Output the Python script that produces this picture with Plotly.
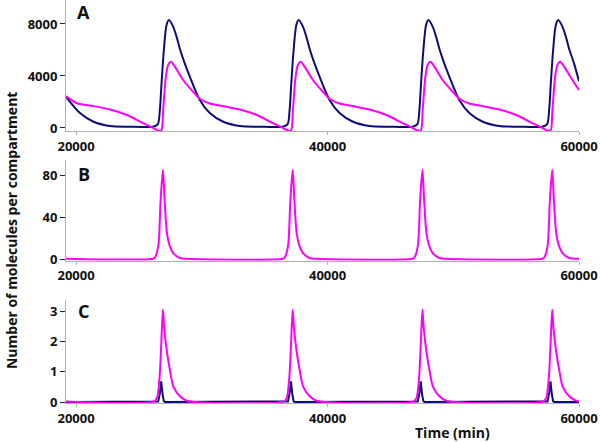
import plotly.graph_objects as go

# ---------------- data ----------------
# Panel A (blue)
a_blue_t = [19200, 20315, 21348, 22697, 24206,
            26110, 26507, 26665, 26800, 26983, 27197, 27380, 27721, 28015, 28253, 28650, 29047, 29841, 30635, 31668, 33017, 34526,
            36430, 36827, 36985, 37120, 37303, 37517, 37700, 38041, 38335, 38573, 38970, 39367, 40161, 40955, 41988, 43337, 44846,
            46750, 47147, 47305, 47440, 47623, 47837, 48020, 48361, 48655, 48893, 49290, 49687, 50481, 51275, 52308, 53657, 55166,
            57070, 57467, 57625, 57760, 57943, 58157, 58340, 58681, 58975, 59213, 59610, 60000]
a_blue_v = [2400, 1150, 500, 150, 100,
            100, 300, 1385, 3460, 6000, 7920, 8300, 7800, 6950, 6100, 4950, 3950, 2150, 1150, 500, 150, 100,
            100, 300, 1385, 3460, 6000, 7920, 8300, 7800, 6950, 6100, 4950, 3950, 2150, 1150, 500, 150, 100,
            100, 300, 1385, 3460, 6000, 7920, 8300, 7800, 6950, 6100, 4950, 3950, 2150, 1150, 500, 150, 100,
            100, 300, 1385, 3460, 6000, 7920, 8300, 7800, 6950, 6100, 4950, 3600]

# Panel A (magenta)
a_mag_t = [19200, 20077, 21348, 22697, 24047, 25318, 26112, 26509, 26777,
           26927, 27142, 27324, 27539, 27856, 28515, 29309, 29841, 30635, 31668, 33017, 34367, 35638, 36432, 36829, 37097,
           37247, 37462, 37644, 37859, 38176, 38835, 39629, 40161, 40955, 41988, 43337, 44687, 45958, 46752, 47149, 47417,
           47567, 47782, 47964, 48179, 48496, 49155, 49949, 50481, 51275, 52308, 53657, 55007, 56278, 57072, 57469, 57737,
           57887, 58102, 58284, 58499, 58816, 59475, 60000]
a_mag_v = [2450, 1900, 1690, 1420, 1000, 380, 10, -200, -200,
           1385, 3950, 4850, 5100, 4720, 3690, 2790, 2250, 1880, 1690, 1420, 1000, 380, 10, -200, -200,
           1385, 3950, 4850, 5100, 4720, 3690, 2790, 2250, 1880, 1690, 1420, 1000, 380, 10, -200, -200,
           1385, 3950, 4850, 5100, 4720, 3690, 2790, 2250, 1880, 1690, 1420, 1000, 380, 10, -200, -200,
           1385, 3950, 4850, 5100, 4720, 3690, 2920]

# Panel B (magenta)
b_mag_t = [19200,
           26114, 26273, 26535, 26725, 26908, 27043, 27226, 27464, 27726, 28258, 28814,
           36434, 36593, 36855, 37045, 37228, 37363, 37546, 37784, 38046, 38578, 39134,
           46754, 46913, 47175, 47365, 47548, 47683, 47866, 48104, 48366, 48898, 49454,
           57074, 57233, 57495, 57685, 57868, 58003, 58186, 58424, 58686, 59218, 59774,
           60000]
b_mag_v = [0.3,
           0.3, 1.5, 12, 56, 85, 56, 25, 12, 5.7, 1, 0.3,
           0.3, 1.5, 12, 56, 85, 56, 25, 12, 5.7, 1, 0.3,
           0.3, 1.5, 12, 56, 85, 56, 25, 12, 5.7, 1, 0.3,
           0.3, 1.5, 12, 56, 85, 56, 25, 12, 5.7, 1, 0.3,
           0.3]

# Panel C (magenta)
c_mag_t = [19200,
           26193, 26432, 26638, 26773, 26908, 27011, 27226, 27488, 27750, 28282, 28814,
           36513, 36752, 36958, 37093, 37228, 37331, 37546, 37808, 38070, 38602, 39134,
           46833, 47072, 47278, 47413, 47548, 47651, 47866, 48128, 48390, 48922, 49454,
           57153, 57392, 57598, 57733, 57868, 57971, 58186, 58448, 58710, 59242, 59774,
           60000]
c_mag_v = [0.02,
           0.02, 0.13, 0.8, 1.88, 3.05, 2.44, 1.66, 1.0, 0.5, 0.18, 0.04,
           0.02, 0.13, 0.8, 1.88, 3.05, 2.44, 1.66, 1.0, 0.5, 0.18, 0.04,
           0.02, 0.13, 0.8, 1.88, 3.05, 2.44, 1.66, 1.0, 0.5, 0.18, 0.04,
           0.02, 0.13, 0.8, 1.88, 3.05, 2.44, 1.66, 1.0, 0.5, 0.18, 0.04,
           0.02]

# Panel C (blue)
c_blue_t = [19200,
            26455, 26535, 26670, 26773, 26884, 26987, 27091,
            36775, 36855, 36990, 37093, 37204, 37307, 37411,
            47095, 47175, 47310, 47413, 47524, 47627, 47731,
            57415, 57495, 57630, 57733, 57844, 57947, 58051,
            60000]
c_blue_v = [0,
            0, 0.02, 0.3, 0.68, 0.24, 0.02, 0,
            0, 0.02, 0.3, 0.68, 0.24, 0.02, 0,
            0, 0.02, 0.3, 0.68, 0.24, 0.02, 0,
            0, 0.02, 0.3, 0.68, 0.24, 0.02, 0,
            0]

x_ticks = [20000, 40000, 60000]
a_ticks = [0, 4000, 8000]
b_ticks = [0, 40, 80]
c_ticks = [0, 1, 2, 3]
panel_labels = ["A", "B", "C"]

BLUE = "#0d0d7a"
MAG = "#ff00ff"
FONT = "Open Sans"

fig = go.Figure()

def line(x, y, color, xa, ya, shape="spline"):
    fig.add_trace(go.Scatter(x=x, y=y, mode="lines", xaxis=xa, yaxis=ya,
                             line=dict(color=color, width=2, shape=shape, smoothing=0.8),
                             showlegend=False, hoverinfo="skip"))

line(a_blue_t, a_blue_v, BLUE, "x", "y")
line(a_mag_t, a_mag_v, MAG, "x", "y")
line(b_mag_t, b_mag_v, MAG, "x2", "y2")
line(c_blue_t, c_blue_v, BLUE, "x3", "y3", shape="linear")
line(c_mag_t, c_mag_v, MAG, "x3", "y3")

tickfont = dict(family=FONT, size=13, color="#111111", weight="bold")

def xaxis(anchor):
    return dict(range=[19200, 60000], tickvals=x_ticks, ticktext=[str(v) for v in x_ticks],
                showline=True, linecolor="#b0b0b0", linewidth=1, ticks="outside", ticklen=3,
                tickcolor="#b0b0b0", showgrid=False, zeroline=False, anchor=anchor,
                tickfont=tickfont, domain=[0, 1])

def yaxis(rng, ticks, dom, anchor):
    return dict(range=rng, tickvals=ticks, showline=True, linecolor="#b0b0b0", linewidth=1,
                ticks="outside", ticklen=5, tickcolor="#222222", showgrid=False, zeroline=False,
                tickfont=tickfont, domain=dom, anchor=anchor)

fig.update_layout(
    width=600, height=442,
    margin=dict(l=66, r=21, t=0, b=39),
    paper_bgcolor="white", plot_bgcolor="white",
    xaxis=xaxis("y"), xaxis2=xaxis("y2"), xaxis3=xaxis("y3"),
    yaxis=yaxis([-231, 9846], a_ticks, [0.675, 1.0], "x"),
    yaxis2=yaxis([-1.6, 94.3], b_ticks, [0.353, 0.603], "x2"),
    yaxis3=yaxis([-0.033, 3.37], c_ticks, [0.0, 0.2556], "x3"),
)

label_y = [0.970, 0.568, 0.228]
for lab, yy in zip(panel_labels, label_y):
    fig.add_annotation(text=lab, xref="paper", yref="paper", x=0.035, y=yy,
                       showarrow=False, xanchor="center", yanchor="middle",
                       font=dict(family=FONT, size=18, color="#111111", weight="bold"))

fig.add_annotation(text="Number of molecules per compartment", xref="paper", yref="paper",
                   x=-0.105, y=0.427, textangle=-90, showarrow=False,
                   xanchor="center", yanchor="middle",
                   font=dict(family=FONT, size=14, color="#111111", weight="bold"))
fig.add_annotation(text="Time (min)", xref="paper", yref="paper",
                   x=0.754, y=-0.072, showarrow=False, xanchor="center", yanchor="middle",
                   font=dict(family=FONT, size=14, color="#111111", weight="bold"))

fig.write_html("out.html", config={"displayModeBar": False},
               post_script="document.body.style.margin='0px';document.body.style.padding='0px';")
